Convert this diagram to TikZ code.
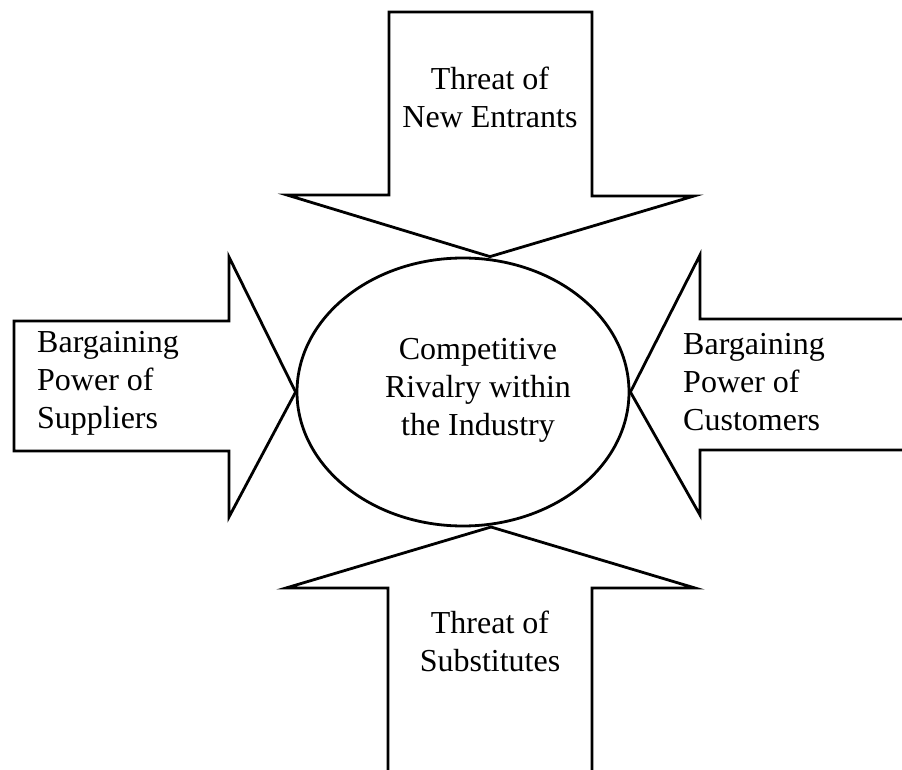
\documentclass[tikz,border=0pt]{standalone}
\usepackage{fontspec}
\setmainfont{Liberation Serif}
\usetikzlibrary{shapes.geometric}
\begin{document}
\begin{tikzpicture}[x=1pt,y=-1pt,
  outline/.style={draw=black,line width=2.8pt,line join=miter},
  label/.style={font=\fontsize{32}{38}\selectfont,align=center,inner sep=0pt},
  leftlabel/.style={font=\fontsize{32}{38}\selectfont,align=left,inner sep=0pt,anchor=west}]
\useasboundingbox (0,0) rectangle (902,770);
% central ellipse
\node[outline,ellipse,minimum width=332pt,minimum height=268pt,inner sep=0pt] (rivalry) at (463,392) {};
\node[label] (rivalrytext) at (478,390) {Competitive\\Rivalry within\\the Industry};
% top arrow (closed at the top)
\draw[outline] (389,12) -- (592,12) -- (592,196) -- (694,196) -- (rivalry.north -| 490,0) -- (287,195) -- (389,195) -- cycle;
\node[label] (entrants) at (490,97) {Threat of\\New Entrants};
% left arrow (closed at the left)
\draw[outline] (14,321) -- (229,321) -- (229,257) -- (rivalry.west) -- (229,517) -- (229,451) -- (14,451) -- cycle;
\node[leftlabel] (suppliers) at (37,383) {Bargaining\\Power of\\Suppliers};
% right arrow (open at the right edge)
\draw[outline] (904,319) -- (700,319) -- (700,255) -- (rivalry.east) -- (700,515) -- (700,450) -- (904,450);
\node[leftlabel] (customers) at (683,382) {Bargaining\\Power of\\Customers};
% bottom arrow (open at the bottom edge)
\draw[outline] (388,772) -- (388,588) -- (286,588) -- (491,527) -- (695,588) -- (592,588) -- (592,772);
\node[label] (substitutes) at (490,641) {Threat of\\Substitutes};
\end{tikzpicture}
\end{document}
